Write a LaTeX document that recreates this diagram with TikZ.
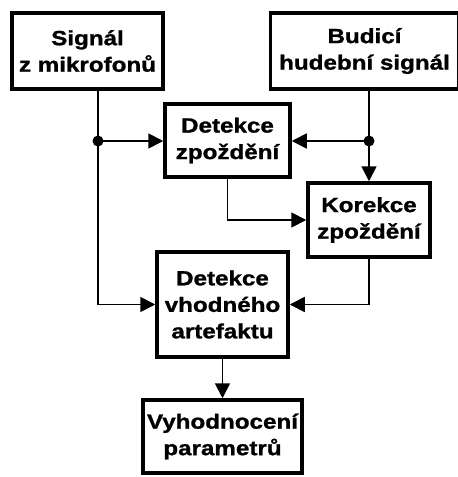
\documentclass[tikz,border=0pt]{standalone}
\usepackage{fontspec}
\usepackage{tikz}
\usetikzlibrary{arrows,arrows.meta}
\usetikzlibrary{calc}
\newfontfamily\boxfont{Liberation Sans}[FakeStretch=1.18, FakeBold=1.2]
\definecolor{rahmen}{RGB}{0,0,0}

\begin{document}
\begin{tikzpicture}[x=1pt, y=-1pt,
    blok/.style={draw=rahmen, line width=3.5pt, align=center, inner sep=0pt,
        font=\boxfont\bfseries\fontsize{20.5}{26.5}\selectfont},
    spoj/.style={line width=1.8pt},
    sipka/.style={spoj, -{Triangle[length=15pt, width=15pt]}}]

    \useasboundingbox (0,0) rectangle (458,477);

    % bloky
    \node[blok, minimum width=151pt, minimum height=76pt] (mic) at (87.5,51) {Signál\\z mikrofonů};
    \node[blok, minimum width=188pt, minimum height=76pt] (bud) at (364.5,51) {Budicí\\hudební signál};
    \node[blok, minimum width=125pt, minimum height=73pt] (detzp) at (227.5,140.5) {Detekce\\zpoždění};
    \node[blok, minimum width=122pt, minimum height=74pt] (kor) at (369,220) {Korekce\\zpoždění};
    \node[blok, minimum width=131pt, minimum height=105pt] (art) at (222.5,304.5) {Detekce\\vhodného\\artefaktu};
    \node[blok, minimum width=159pt, minimum height=73pt] (vyh) at (222.5,436.5) {Vyhodnocení\\parametrů};

    % uzly
    \coordinate (jl) at (98,141);
    \coordinate (jr) at (369,141);

    \draw[spoj] (jl |- mic.south) -- (jl);
    \draw[sipka] (jl) -- (jl -| detzp.west);
    \draw[sipka] (jl) |- (art.west);

    \draw[spoj] (jr |- bud.south) -- (jr);
    \draw[sipka] (jr) -- (jr -| detzp.east);
    \draw[sipka] (jr) -- (kor.north);

    \draw[sipka] (detzp.south) |- (kor.west);
    \draw[sipka] (kor.south) |- (art.east);
    \draw[sipka] (art.south) -- (vyh.north);

    \fill (jl) circle (5.5);
    \fill (jr) circle (5.5);

\end{tikzpicture}
\end{document}
